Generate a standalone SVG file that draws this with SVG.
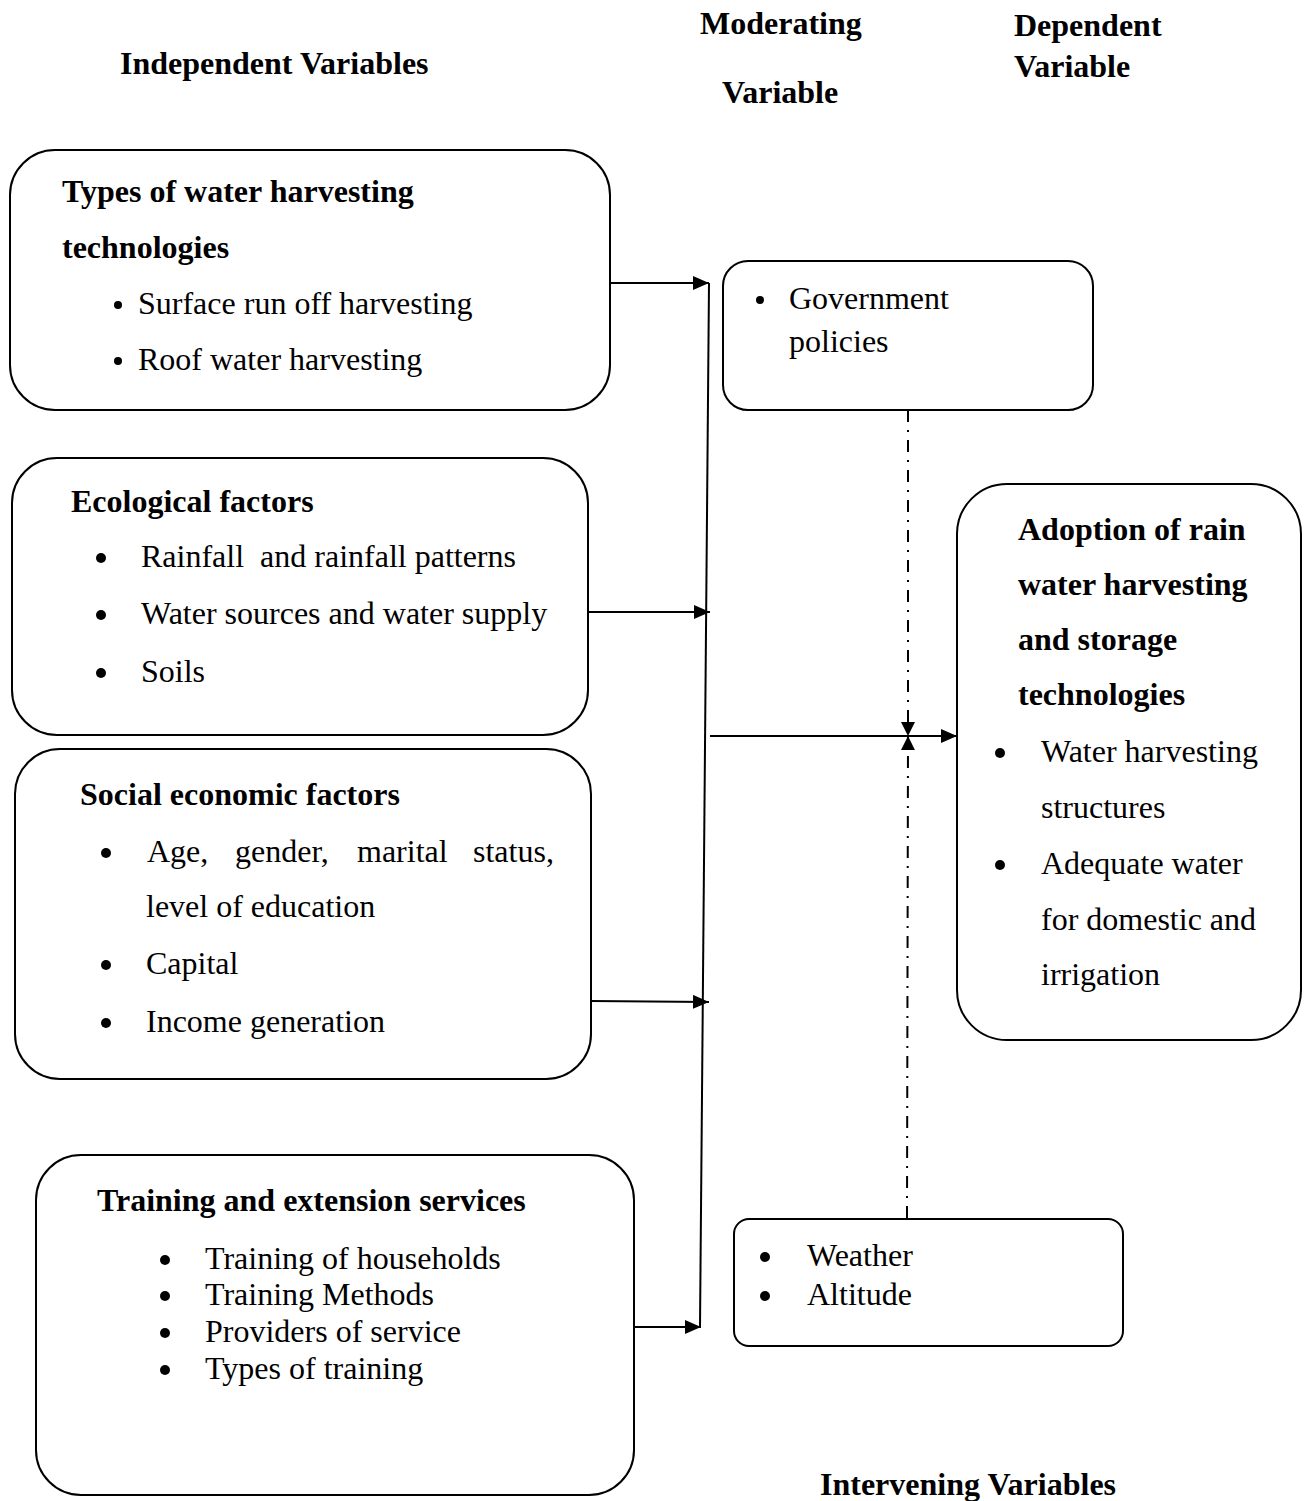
<svg xmlns="http://www.w3.org/2000/svg" width="1306" height="1501" viewBox="0 0 1306 1501">
<style>
text{font-family:"Liberation Serif","Times New Roman",serif;font-size:32px;fill:#000}
.b{font-weight:bold}
.h{font-weight:bold;font-size:32px}
.box{fill:#fff;stroke:#000;stroke-width:2}
.ln{stroke:#000;stroke-width:2;fill:none}
.dd{stroke:#000;stroke-width:2;fill:none;stroke-dasharray:12 8 2 8}
.dot{fill:#000}
</style>
<defs>
<marker id="ah" markerWidth="16" markerHeight="14" refX="16" refY="7" orient="auto" markerUnits="userSpaceOnUse">
<path d="M0,0 L16,7 L0,14 Z" fill="#000"/>
</marker>
<marker id="ahd" markerWidth="16" markerHeight="14" refX="14" refY="7" orient="auto" markerUnits="userSpaceOnUse">
<path d="M0,0 L14,7 L0,14 Z" fill="#000"/>
</marker>
</defs>
<rect width="1306" height="1501" fill="#fff"/>
<g id="headers">
<text class="h" x="120" y="74">Independent Variables</text>
<text class="h" x="700" y="34">Moderating</text>
<text class="h" x="722" y="103">Variable</text>
<text class="h" x="1014" y="36">Dependent</text>
<text class="h" x="1014" y="77">Variable</text>
<text class="h" x="820" y="1495">Intervening Variables</text>
</g>
<g id="connectors">
<line class="ln" x1="709" y1="283" x2="700" y2="1327"/>
<line class="ln" x1="610" y1="283" x2="709" y2="283" marker-end="url(#ah)"/>
<line class="ln" x1="588" y1="612" x2="710" y2="612" marker-end="url(#ah)"/>
<line class="ln" x1="591" y1="1001" x2="709" y2="1002" marker-end="url(#ah)"/>
<line class="ln" x1="634" y1="1327" x2="701" y2="1327" marker-end="url(#ah)"/>
<line class="ln" x1="710" y1="736" x2="957" y2="736" marker-end="url(#ah)"/>
<line class="dd" x1="908" y1="410" x2="908" y2="736" marker-end="url(#ahd)"/>
<line class="dd" x1="907" y1="1218" x2="908" y2="736" marker-end="url(#ahd)"/>
</g>
<g id="node-types">
<rect class="box" x="10" y="150" width="600" height="260" rx="45"/>
<text class="b" x="62" y="202">Types of water harvesting</text>
<text class="b" x="62" y="258">technologies</text>
<circle class="dot" cx="118" cy="305" r="4"/><text x="138" y="314">Surface run off harvesting</text>
<circle class="dot" cx="118" cy="361" r="4"/><text x="138" y="370">Roof water harvesting</text>
</g>
<g id="node-ecological">
<rect class="box" x="12" y="458" width="576" height="277" rx="45"/>
<text class="b" x="71" y="512">Ecological factors</text>
<circle class="dot" cx="101" cy="558" r="5"/><text x="141" y="567" xml:space="preserve">Rainfall  and rainfall patterns</text>
<circle class="dot" cx="101" cy="615" r="5"/><text x="141" y="624">Water sources and water supply</text>
<circle class="dot" cx="101" cy="673" r="5"/><text x="141" y="682">Soils</text>
</g>
<g id="node-social">
<rect class="box" x="15" y="749" width="576" height="330" rx="45"/>
<text class="b" x="80" y="805">Social economic factors</text>
<circle class="dot" cx="106" cy="853" r="5"/>
<text x="147" y="862">Age,</text><text x="235" y="862">gender,</text><text x="357" y="862">marital</text><text x="473" y="862">status,</text>
<text x="146" y="917">level of education</text>
<circle class="dot" cx="106" cy="965" r="5"/><text x="146" y="974">Capital</text>
<circle class="dot" cx="106" cy="1023" r="5"/><text x="146" y="1032">Income generation</text>
</g>
<g id="node-training">
<rect class="box" x="36" y="1155" width="598" height="340" rx="45"/>
<text class="b" x="97" y="1211">Training and extension services</text>
<circle class="dot" cx="165" cy="1260" r="5"/><text x="205" y="1269">Training of households</text>
<circle class="dot" cx="165" cy="1296" r="5"/><text x="205" y="1305">Training Methods</text>
<circle class="dot" cx="165" cy="1333" r="5"/><text x="205" y="1342">Providers of service</text>
<circle class="dot" cx="165" cy="1370" r="5"/><text x="205" y="1379">Types of training</text>
</g>
<g id="node-government">
<rect class="box" x="723" y="261" width="370" height="149" rx="25"/>
<circle class="dot" cx="760" cy="300" r="4"/><text x="789" y="309">Government</text>
<text x="789" y="352">policies</text>
</g>
<g id="node-adoption">
<rect class="box" x="957" y="484" width="344" height="556" rx="50"/>
<text class="b" x="1018" y="540">Adoption of rain</text>
<text class="b" x="1018" y="595">water harvesting</text>
<text class="b" x="1018" y="650">and storage</text>
<text class="b" x="1018" y="705">technologies</text>
<circle class="dot" cx="1000" cy="753" r="5"/><text x="1041" y="762">Water harvesting</text>
<text x="1041" y="818">structures</text>
<circle class="dot" cx="1000" cy="865" r="5"/><text x="1041" y="874">Adequate water</text>
<text x="1041" y="930">for domestic and</text>
<text x="1041" y="985">irrigation</text>
</g>
<g id="node-intervening">
<rect class="box" x="734" y="1219" width="389" height="127" rx="15"/>
<circle class="dot" cx="765" cy="1257" r="5"/><text x="807" y="1266">Weather</text>
<circle class="dot" cx="765" cy="1296" r="5"/><text x="807" y="1305">Altitude</text>
</g>
</svg>
